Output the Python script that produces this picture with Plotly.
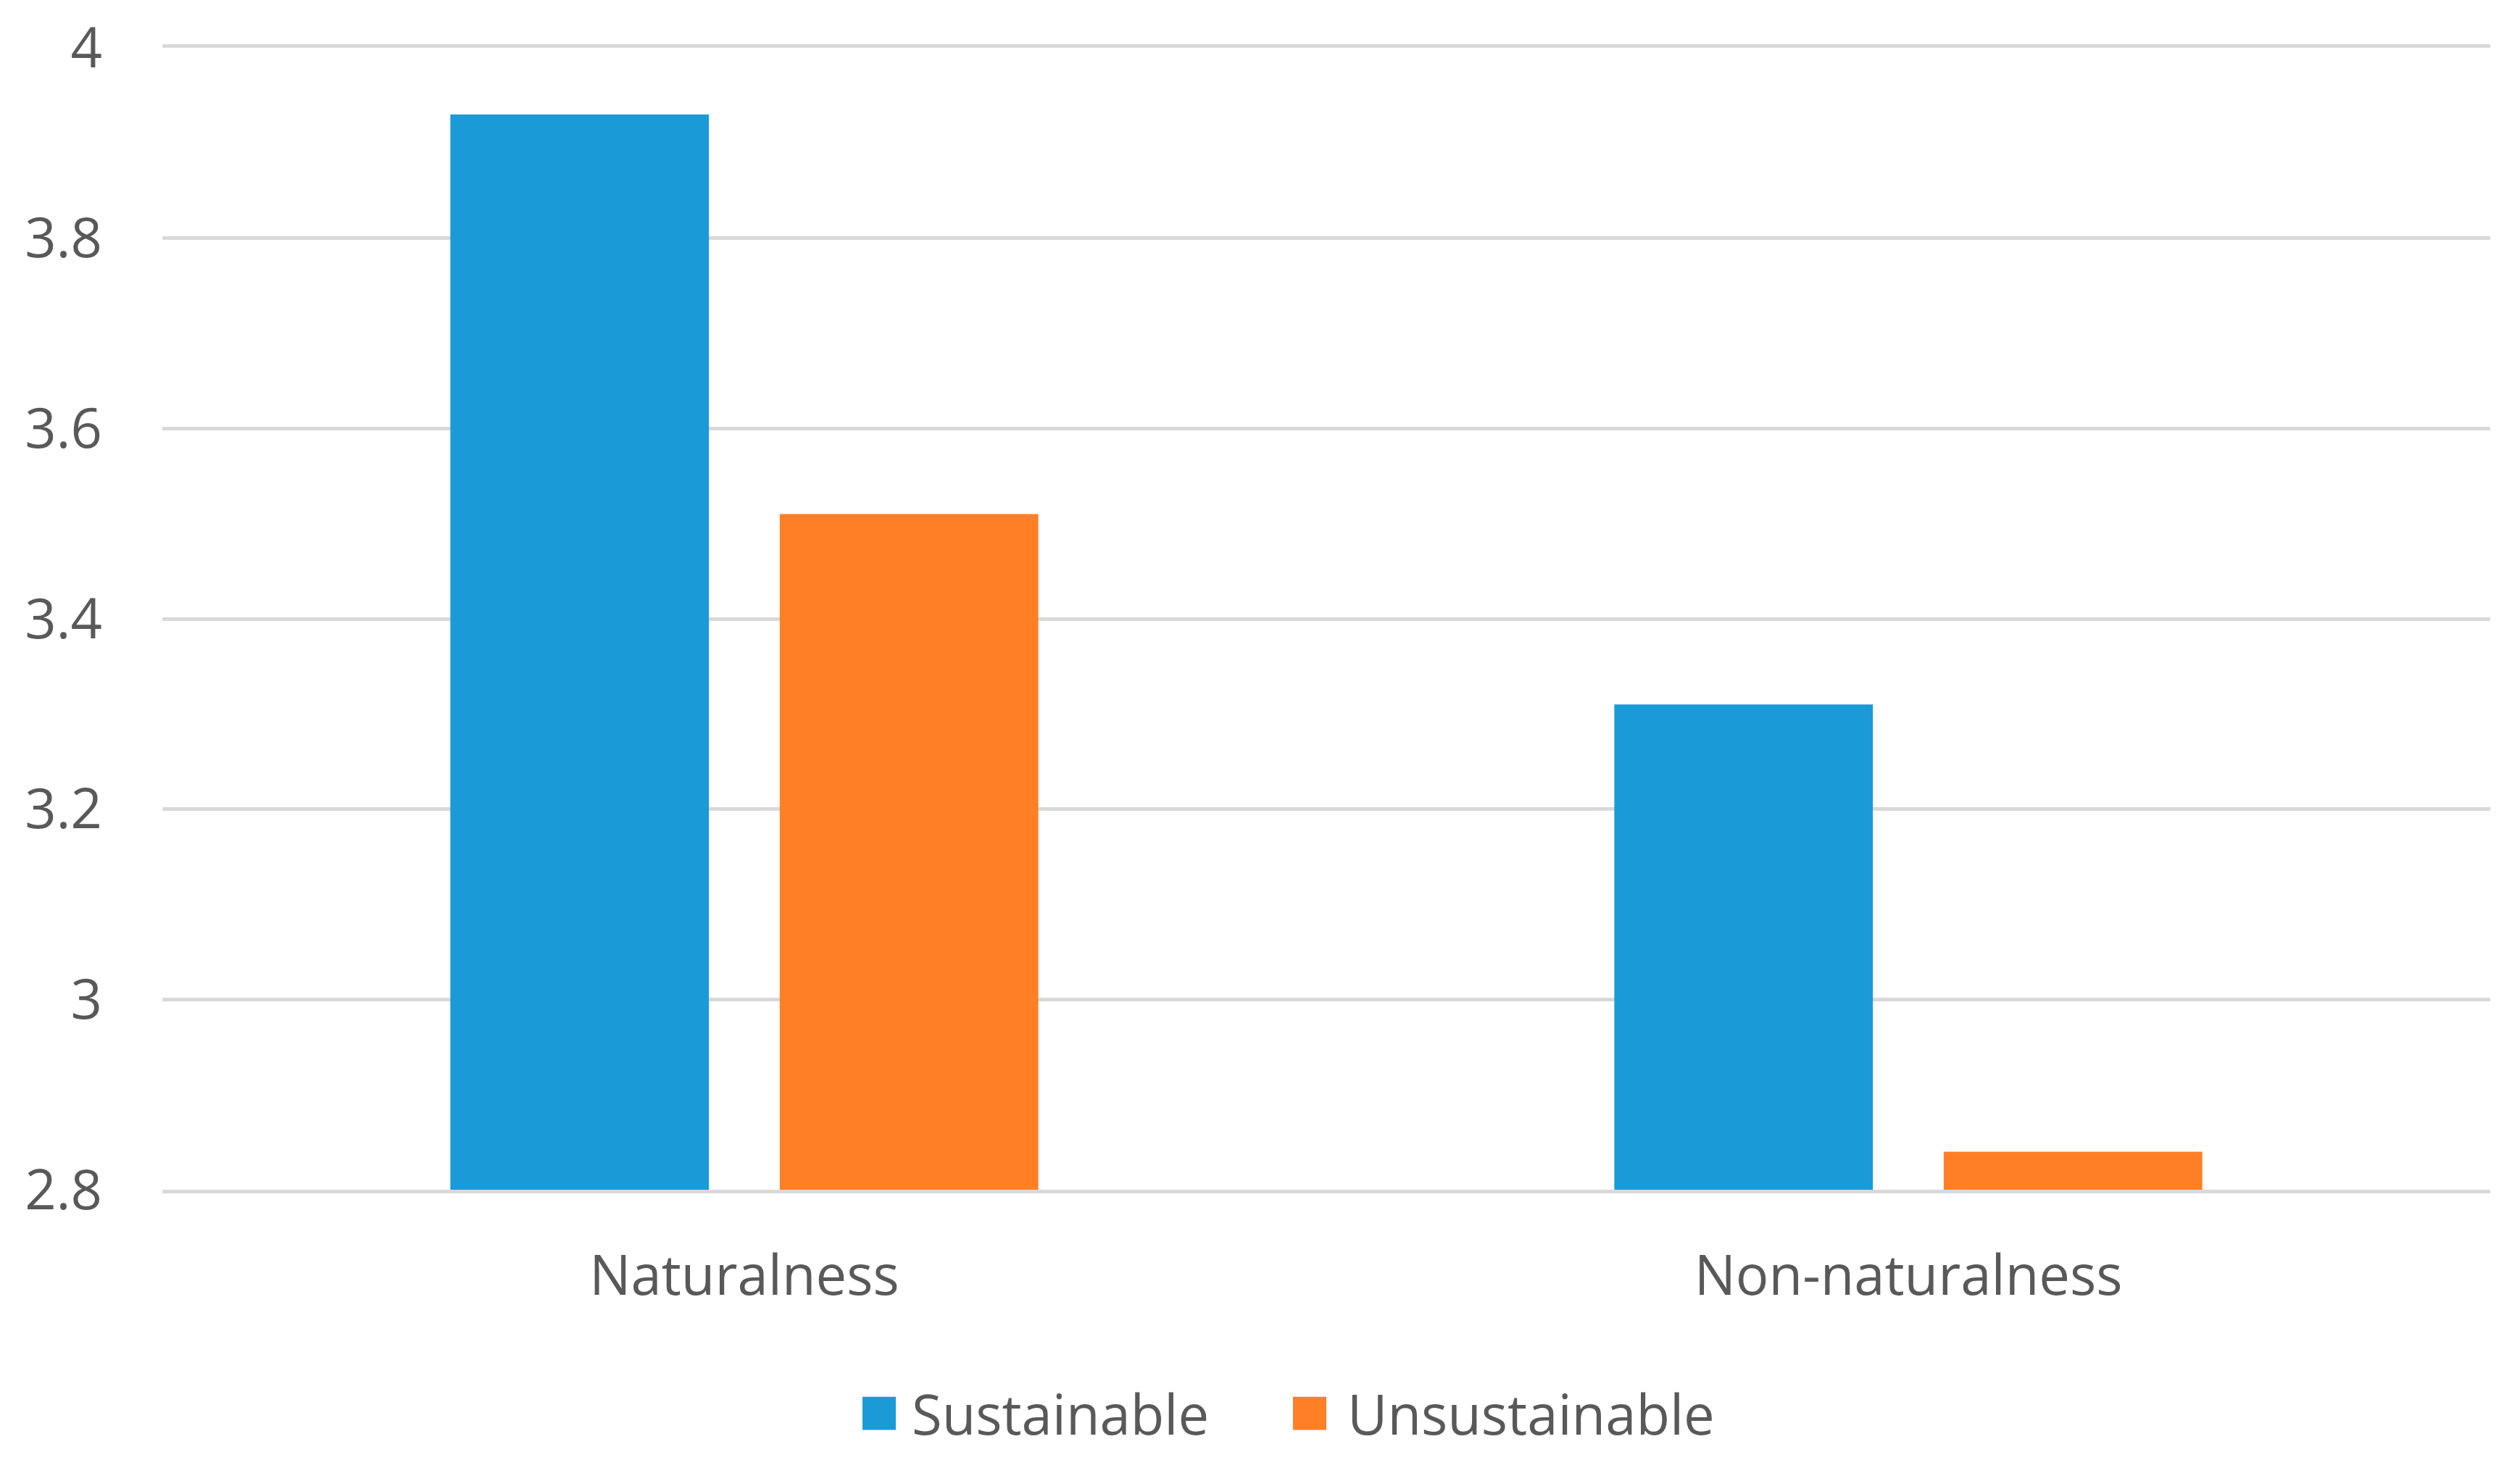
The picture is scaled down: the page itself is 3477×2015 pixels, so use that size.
import plotly.graph_objects as go

categories = ["Naturalness", "Non-naturalness"]
series_names = ["Sustainable", "Unsustainable"]
sustainable = [3.93, 3.31]
unsustainable = [3.51, 2.84]
y_ticks = [2.8, 3.0, 3.2, 3.4, 3.6, 3.8, 4.0]

colors = {"Sustainable": "#1A9BD7", "Unsustainable": "#FF7F27"}
text_color = "#595959"
grid_color = "#D9D9D9"
font_family = "Open Sans, Noto Sans, sans-serif"

W, H = 3477, 2015
L, R, T, B = 224, 41, 54, 373
plot_w = W - L - R
plot_h = H - T - B

def px_x(px):
    return (px - L) / plot_w

def px_y(py):
    return (H - B - py) / plot_h

fig = go.Figure()
for name, vals in zip(series_names, [sustainable, unsustainable]):
    fig.add_trace(go.Bar(
        x=categories, y=vals, name=name,
        marker=dict(color=colors[name], line=dict(width=0)),
        showlegend=False,
    ))

fig.update_layout(
    width=W, height=H,
    margin=dict(l=L, r=R, t=T, b=B, pad=0),
    paper_bgcolor="white", plot_bgcolor="white",
    barmode="group", bargap=0.434, bargroupgap=0.215,
    font=dict(family=font_family, size=76, color=text_color),
    xaxis=dict(
        showgrid=False, zeroline=False, ticks="",
        showline=True, mirror=True, linecolor=grid_color, linewidth=5,
        ticklabelstandoff=49,
        tickfont=dict(size=76, color=text_color),
    ),
    yaxis=dict(
        range=[2.8, 4.0], tickvals=y_ticks,
        showgrid=True, gridcolor=grid_color, gridwidth=5,
        zeroline=False, showline=False, ticks="",
        ticklabelstandoff=82, ticklabeloverflow="allow",
        tickfont=dict(size=76, color=text_color),
    ),
)

# custom legend (large square swatches like the original)
legend_items = [("Sustainable", 1190, 1257), ("Unsustainable", 1784, 1858)]
sw = 46
cy = 1953
for name, sx, tx in legend_items:
    fig.add_shape(type="rect", xref="paper", yref="paper",
                  x0=px_x(sx), x1=px_x(sx + sw),
                  y0=px_y(cy + sw / 2), y1=px_y(cy - sw / 2),
                  fillcolor=colors[name], line=dict(width=0))
    fig.add_annotation(xref="paper", yref="paper", x=px_x(tx), y=px_y(cy),
                       xanchor="left", yanchor="middle", showarrow=False,
                       text=name, font=dict(size=76, color=text_color),
                       borderpad=0)

fig.write_html("out.html", config={"displayModeBar": False},
               post_script="document.body.style.margin='0';")
